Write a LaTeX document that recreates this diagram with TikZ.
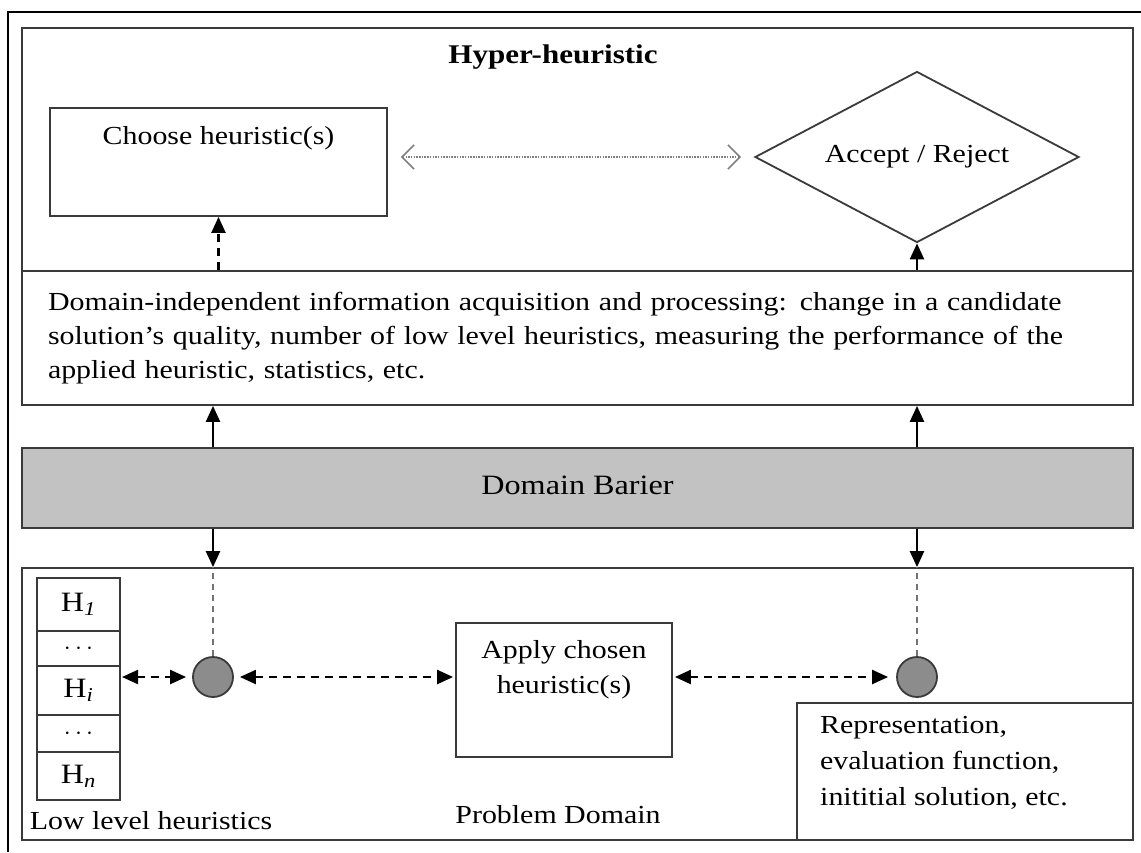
\documentclass[tikz,border=0pt]{standalone}
\usepackage{fontspec}
\setmainfont{Liberation Serif}[FakeStretch=1.15]
\usepackage{tikz}
\usetikzlibrary{arrows.meta}
\usetikzlibrary{positioning}
\usetikzlibrary{shapes.geometric}
\definecolor{edge}{HTML}{3A3A3A}
\definecolor{barfill}{HTML}{C2C2C2}
\definecolor{jointfill}{HTML}{8C8C8C}
\tikzstyle{box}=[draw=edge, line width=1.8pt, rectangle, inner sep=0pt]
\tikzstyle{hcell}=[box, line width=1.5pt, minimum width=83pt, outer sep=0pt, font=\fontsize{28}{34}\selectfont]
\tikzstyle{joint}=[circle, draw=edge, fill=jointfill, line width=1.8pt, minimum size=40pt, inner sep=0pt]
\tikzstyle{tri}=[line width=2.4pt, -{Triangle[length=16pt,width=14pt]}]
\tikzstyle{dtri}=[line width=2.2pt, dash pattern=on 8pt off 6pt, {Triangle[length=16pt,width=14pt]}-{Triangle[length=16pt,width=14pt]}]
\tikzstyle{feed}=[line width=2.2pt, draw=gray!90!black, dash pattern=on 6pt off 5pt]

\begin{document}
\begin{tikzpicture}[x=1pt,y=-1pt,font=\fontsize{26}{34}\selectfont]

    \useasboundingbox (0,0) rectangle (1141,852);

    %frame
    \draw [line width=2pt] (8,852) -- (8,12) -- (1141,12);

    %hyper-heuristic part
    \node [box, minimum width=1111pt, minimum height=243pt] (hyper) at (577.5,149.5) {};
    \node [font=\fontsize{27}{34}\selectfont\bfseries] (title) at (553,57) {Hyper-heuristic};
    \node [box, minimum width=337pt, minimum height=108pt] (choose) at (218.5,162) {};
    \node (choosetxt) at (218.5,138) {Choose heuristic(s)};
    \node [box, diamond, aspect=1.9, minimum width=324pt, minimum height=171pt] (accept) at (917,157) {Accept / Reject};
    \node [box, minimum width=1111pt, minimum height=134pt, text width=1059pt, align=left] (indep) at (577.5,338)
        {Domain-independent information acquisition and processing: change in a candidate\\
         solution's quality, number of low level heuristics, measuring the performance of the\\
         applied heuristic, statistics, etc.};

    %barrier
    \node [box, fill=barfill, minimum width=1111pt, minimum height=80pt, font=\fontsize{28}{34}\selectfont] (barrier) at (577.5,488) {\raisebox{5pt}{Domain Barier}};

    %problem domain part
    \node [box, minimum width=1111pt, minimum height=272pt] (problem) at (577.5,704) {};
    \node [hcell, minimum height=53pt] (h1) at (78.5,604.5) {H\textsubscript{\itshape 1}};
    \node [hcell, minimum height=35pt, below=0pt of h1] (dots1) {$\cdots$};
    \node [hcell, minimum height=49pt, below=0pt of dots1] (hi) {H\textsubscript{\itshape i}};
    \node [hcell, minimum height=37pt, below=0pt of hi] (dots2) {$\cdots$};
    \node [hcell, minimum height=48pt, below=0pt of dots2] (hn) {H\textsubscript{\itshape n}};
    \node (lowlbl) at (151,821) {Low level heuristics};
    \node [joint] (jl) at (213,677) {};
    \node [joint] (jr) at (917,677) {};
    \node [box, minimum width=216pt, minimum height=134pt] (apply) at (564,690) {};
    \node [align=center, font=\fontsize{26}{35}\selectfont] (applytxt) at (564,670) {Apply chosen\\heuristic(s)};
    \node (problbl) at (558,815) {Problem Domain};
    \node [box, minimum width=336pt, minimum height=137pt] (repr) at (965,771.5) {};
    \node [anchor=north west, align=left, inner sep=0pt, font=\fontsize{26}{36}\selectfont] (reprtxt) at (820,716)
        {Representation,\\evaluation function,\\inititial solution, etc.};

    %arrows in the hyper-heuristic
    \draw [tri, dash pattern=on 8pt off 6pt] (choose.south |- indep.north) -- (choose.south);
    \draw [tri] (accept.south |- indep.north) -- (accept.south);
    \draw [line width=1.3pt, draw=gray, dash pattern=on 1.5pt off 1.2pt,
           {Straight Barb[length=12pt,width=24pt,line width=1.6pt]}-{Straight Barb[length=12pt,width=24pt,line width=1.6pt]},
           shorten <=13pt, shorten >=13pt] (choose.east |- accept.west) -- (accept.west);

    %through the barrier
    \foreach \j in {jl,jr}{
        \draw [tri] (\j |- barrier.north) -- (\j |- indep.south);
        \draw [tri] (\j |- barrier.south) -- (\j |- problem.north);
        \draw [feed] (\j.north) -- (\j |- problem.north);
    }

    %arrows in the problem domain
    \draw [dtri, shorten <=2pt, shorten >=6pt] (hi.east |- jl) -- (jl.west);
    \draw [dtri, shorten <=6pt, shorten >=2pt] (jl.east) -- (apply.west |- jl);
    \draw [dtri, shorten <=2pt, shorten >=8pt] (apply.east |- jr) -- (jr.west);

\end{tikzpicture}
\end{document}
